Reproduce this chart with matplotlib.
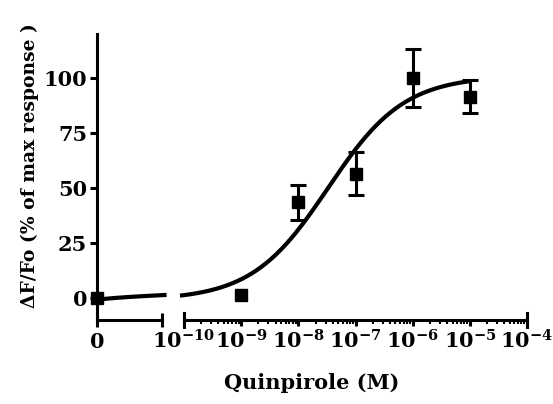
import numpy as np
import matplotlib
matplotlib.use("Agg")
import matplotlib.pyplot as plt
from matplotlib.ticker import LogLocator, NullFormatter, FixedLocator

plt.rcParams["font.family"] = "DejaVu Serif"
plt.rcParams["font.weight"] = "bold"
plt.rcParams["mathtext.fontset"] = "dejavuserif"

# measured responses (% of max), mean +/- error
conc = [1e-9, 1e-8, 1e-7, 1e-6, 1e-5]
resp = [1.5, 43.5, 56.5, 100.0, 91.5]
err = [0.0, 8.0, 9.9, 13.0, 7.6]
zero_resp = 0.0

# fitted dose-response parameters
bottom, top, log_ec50, hill = -1.0, 101.0, -7.48, 0.65

decades = [-10, -9, -8, -7, -6, -5, -4]
dec_labels = [r"$\mathbf{10^{%d}}$" % d for d in decades]


def fit(c):
    c = np.asarray(c, dtype=float)
    return bottom + (top - bottom) / (1 + (10 ** log_ec50 / np.maximum(c, 1e-30)) ** hill)


W, H = 553, 404
fig = plt.figure(figsize=(W / 100, H / 100), dpi=100)
axL = fig.add_axes([97 / W, 84 / H, 65 / W, 286 / H])
axR = fig.add_axes([184 / W, 84 / H, 343 / W, 286 / H], sharey=axL)

lw = 2.2
for ax in (axL, axR):
    for s in ("top", "right"):
        ax.spines[s].set_visible(False)
    for s in ("left", "bottom"):
        ax.spines[s].set_linewidth(lw)
    ax.patch.set_visible(False)
axR.spines["left"].set_visible(False)

axL.set_ylim(-10, 120)
axL.set_yticks([0, 25, 50, 75, 100])
axL.tick_params(axis="y", direction="out", length=5, width=lw, labelsize=15, pad=2)

# left segment: zero concentration (linear)
axL.set_xlim(0, 1)
axL.set_xticks([0, 1])
axL.set_xticklabels(["0", ""])
axL.tick_params(axis="x", direction="inout", length=10, width=lw, labelsize=15, pad=4)

xs = np.linspace(0, 1.07, 60)
axL.plot(xs, fit(xs * 1e-10), color="black", lw=3, clip_on=False, solid_capstyle="butt")
axL.plot([0], [zero_resp], "s", color="black", ms=8.5, clip_on=False, zorder=5)

# right segment: log concentration
axR.set_xscale("log")
axR.set_xlim(10.0 ** decades[0], 10.0 ** decades[-1])
axR.xaxis.set_major_locator(FixedLocator([10.0 ** d for d in decades]))
axR.set_xticklabels(dec_labels)
axR.xaxis.set_minor_locator(LogLocator(base=10, subs=np.arange(2, 10), numticks=20))
axR.xaxis.set_minor_formatter(NullFormatter())
axR.tick_params(axis="x", which="major", direction="out", length=4.5, width=lw, labelsize=15, pad=2.5)
axR.tick_params(axis="x", which="minor", direction="out", length=3, width=1.5)
axR.tick_params(axis="y", left=False, labelleft=False)
for xe in axR.get_xlim():
    axR.plot([xe, xe], [-0.025, 0.025], color="black", lw=lw,
             transform=axR.get_xaxis_transform(), clip_on=False)

cs = np.logspace(-10.07, -5.0, 300)
axR.plot(cs, fit(cs), color="black", lw=3, clip_on=False, solid_capstyle="butt")
axR.plot(conc, resp, "s", color="black", ms=8.5, clip_on=False, zorder=5)
has_err = [i for i, e in enumerate(err) if e > 0]
axR.errorbar([conc[i] for i in has_err], [resp[i] for i in has_err],
             yerr=[err[i] for i in has_err], fmt="none", ecolor="black",
             elinewidth=2.2, capsize=5.5, capthick=2.2, clip_on=False, zorder=4)

fig.text(312 / W, 21 / H, "Quinpirole (M)", ha="center", va="center", fontsize=15, fontweight="bold")
fig.text(30 / W, 238 / H, "ΔF/Fo (% of max response )", rotation=90, ha="center", va="center",
         fontsize=13.5, fontweight="bold")

fig.savefig("out.png", dpi=100)
